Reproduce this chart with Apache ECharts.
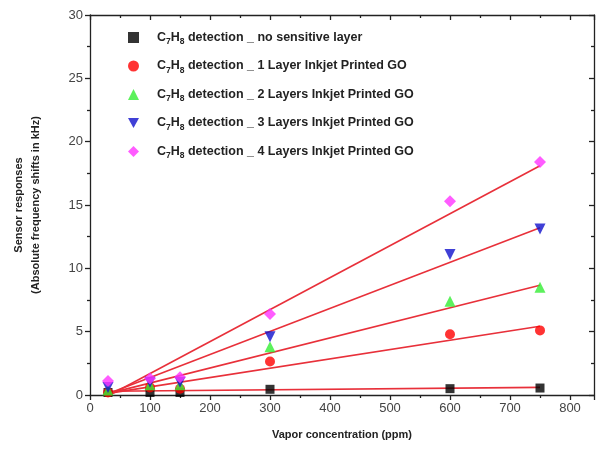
<!DOCTYPE html>
<html><head><meta charset="utf-8">
<script src="https://cdn.jsdelivr.net/npm/echarts@6/dist/echarts.min.js"></script>
<style>html,body{margin:0;padding:0;background:#fff}#c{width:597px;height:456px}</style>
</head><body><div id="c"></div>
<script>
const conc = [30, 100, 150, 300, 600, 750];
const noLayer = [0.2, 0.2, 0.2, 0.45, 0.5, 0.55];
const layer1 = [0.2, 0.6, 0.5, 2.65, 4.8, 5.1];
const layer2 = [0.4, 0.8, 0.8, 3.8, 7.4, 8.5];
const layer3 = [0.6, 1.0, 1.0, 4.6, 11.1, 13.1];
const layer4 = [1.1, 1.3, 1.4, 6.4, 15.3, 18.4];
const fitX = [33, 750];
const fitNoLayer = [0.3, 0.6];
const fit1 = [0.15, 5.43];
const fit2 = [0.15, 8.66];
const fit3 = [0.15, 13.2];
const fit4 = [0.0, 18.1];
const legendNames = [
  'C7H8 detection _ no sensitive layer',
  'C7H8 detection _ 1 Layer Inkjet Printed GO',
  'C7H8 detection _ 2 Layers Inkjet Printed GO',
  'C7H8 detection _ 3 Layers Inkjet Printed GO',
  'C7H8 detection _ 4 Layers Inkjet Printed GO'
];
const xTicks = [0, 100, 200, 300, 400, 500, 600, 700, 800];
const yTicks = [0, 5, 10, 15, 20, 25, 30];

const pairs = a => conc.map((x, i) => [x, a[i]]);
const fitPairs = a => fitX.map((x, i) => [x, a[i]]);
const chart = echarts.init(document.getElementById('c'));
const font = 'Liberation Sans, Arial, sans-serif';
const scatterDefs = [
  {data: noLayer, color: '#000000', symbol: 'rect', size: 9, rot: 0},
  {data: layer1, color: '#ff0000', symbol: 'circle', size: 10, rot: 0},
  {data: layer2, color: '#33ee33', symbol: 'triangle', size: 11, rot: 0},
  {data: layer3, color: '#1010cc', symbol: 'triangle', size: 11, rot: 180},
  {data: layer4, color: '#ff33ff', symbol: 'diamond', size: 12, rot: 0}
];
const fits = [fitNoLayer, fit1, fit2, fit3, fit4];
const series = [];
fits.forEach(f => series.push({
  type: 'line', data: fitPairs(f), symbol: 'none', silent: true,
  lineStyle: {color: '#e8303a', width: 1.6}, z: 2
}));
scatterDefs.forEach((d, i) => series.push({
  name: legendNames[i], type: 'scatter', data: pairs(d.data),
  symbol: d.symbol, symbolSize: d.size, symbolRotate: d.rot,
  itemStyle: {color: d.color}, z: 3
}));
const axisLineStyle = {color: '#222', width: 1.3};
const legendData = legendNames.map((n, i) => ({
  name: n,
  icon: scatterDefs[i].symbol === 'triangle' && scatterDefs[i].rot === 180
    ? 'path://M0,0 L10,0 L5,9 Z' : scatterDefs[i].symbol
}));
chart.setOption({
  animation: false,
  backgroundColor: '#fff',
  grid: {left: 90, right: 3, top: 15, bottom: 61, show: false},
  legend: {
    left: 123, top: 26, orient: 'vertical', itemGap: 13,
    itemWidth: 11, itemHeight: 11,
    data: legendData,
    formatter: n => '{sp| }{a|C}{s|7}{a|H}{s|8}{a|' + n.slice(4) + '}',
    textStyle: {
      fontFamily: font, fontWeight: 'bold', fontSize: 12.5, color: '#222',
      rich: {
        sp: {width: 13, fontSize: 12},
        a: {fontFamily: font, fontWeight: 'bold', fontSize: 12.5, color: '#222', lineHeight: 17},
        s: {fontFamily: font, fontWeight: 'bold', fontSize: 8.5, color: '#222', verticalAlign: 'bottom', padding: [9, 0, 0, 0]}
      }
    }
  },
  xAxis: [{
    type: 'value', min: 0, max: 840, interval: 100,
    name: 'Vapor concentration (ppm)', nameLocation: 'middle', nameGap: 34,
    nameTextStyle: {fontFamily: font, fontWeight: 'bold', fontSize: 11, color: '#222'},
    axisLine: {show: true, onZero: false, lineStyle: axisLineStyle},
    axisTick: {show: true, inside: false, length: 5, lineStyle: axisLineStyle},
    minorTick: {show: true, splitNumber: 2, length: 3, lineStyle: axisLineStyle},
    axisLabel: {fontFamily: font, fontSize: 13, color: '#444', margin: 7, showMaxLabel: false,
      formatter: v => xTicks.includes(v) ? String(v) : ''},
    splitLine: {show: false}
  }, {
    type: 'value', min: 0, max: 840, interval: 100, position: 'top',
    axisLine: {show: true, onZero: false, lineStyle: axisLineStyle},
    axisTick: {show: true, inside: true, length: 5, lineStyle: axisLineStyle},
    minorTick: {show: true, splitNumber: 2, length: 3, lineStyle: axisLineStyle},
    axisLabel: {show: false}, splitLine: {show: false}
  }],
  yAxis: [{
    type: 'value', min: 0, max: 30, interval: 5,
    name: 'Sensor responses\n(Absolute frequency shifts in kHz)',
    nameLocation: 'middle', nameGap: 46, nameRotate: 90,
    nameTextStyle: {fontFamily: font, fontWeight: 'bold', fontSize: 11, color: '#222', lineHeight: 17},
    axisLine: {show: true, onZero: false, lineStyle: axisLineStyle},
    axisTick: {show: true, inside: false, length: 5, lineStyle: axisLineStyle},
    minorTick: {show: true, splitNumber: 2, length: 3, lineStyle: axisLineStyle},
    axisLabel: {fontFamily: font, fontSize: 13, color: '#444', margin: 7,
      formatter: v => yTicks.includes(v) ? String(v) : ''},
    splitLine: {show: false}
  }, {
    type: 'value', min: 0, max: 30, interval: 5, position: 'right',
    axisLine: {show: true, onZero: false, lineStyle: axisLineStyle},
    axisTick: {show: true, inside: true, length: 5, lineStyle: axisLineStyle},
    minorTick: {show: true, splitNumber: 2, length: 3, lineStyle: axisLineStyle},
    axisLabel: {show: false}, splitLine: {show: false}
  }],
  series: series
});
</script></body></html>
